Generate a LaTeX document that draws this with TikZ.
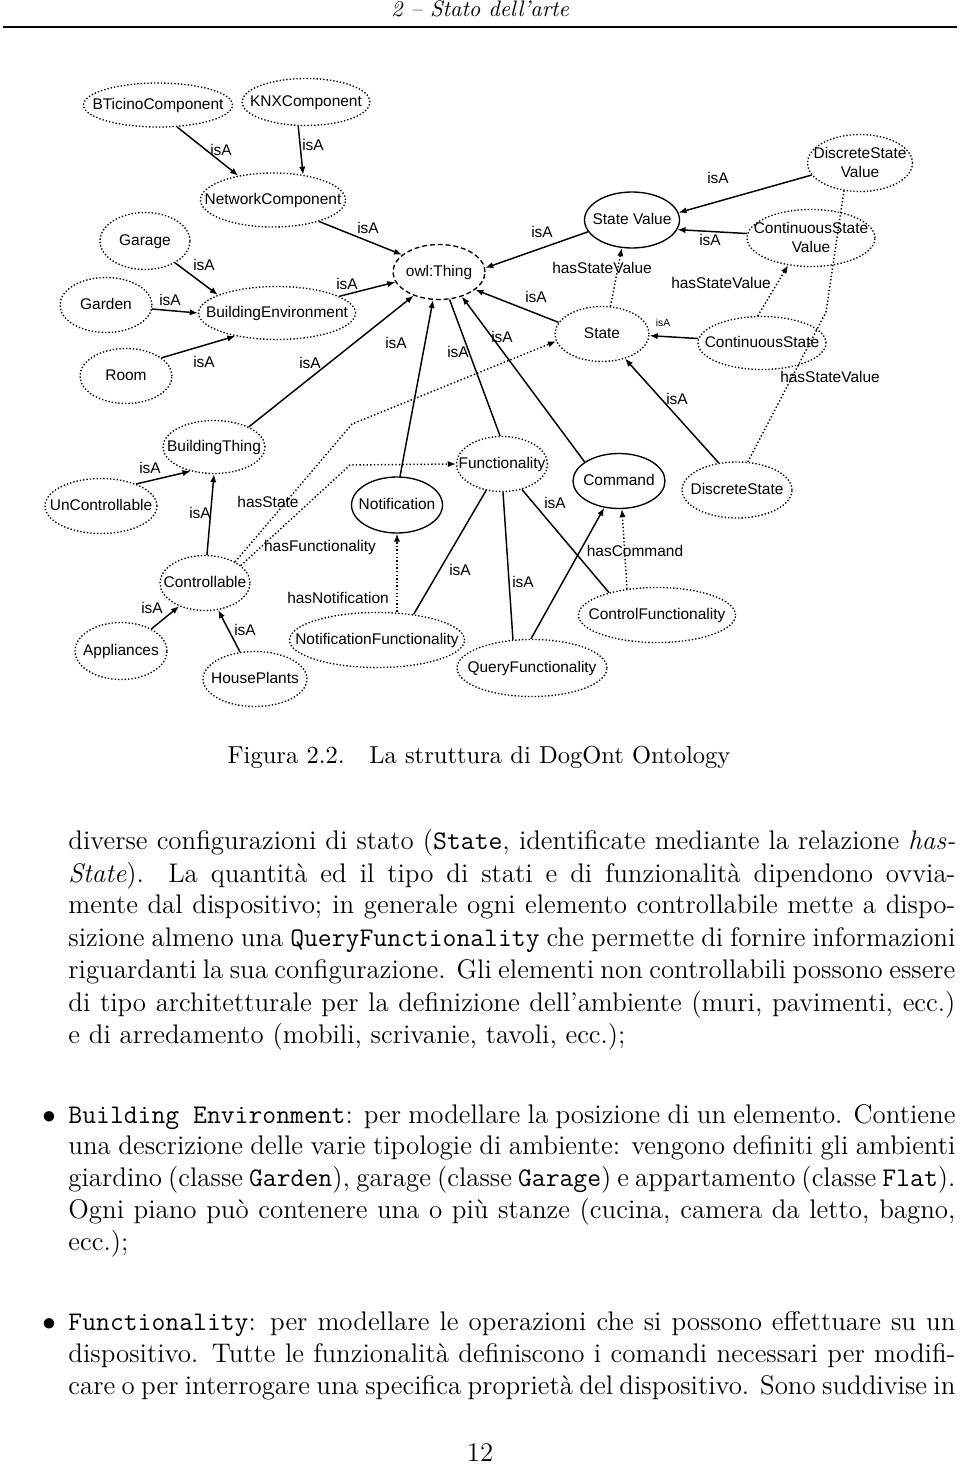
\documentclass[tikz,border=0pt]{standalone}
\usepackage{fontspec}
\newfontfamily\dgfont{Liberation Sans}
\usetikzlibrary{positioning}
\usetikzlibrary{calc}
\usetikzlibrary{arrows.meta}
\usetikzlibrary{shapes.geometric}
\newlength{\tw}
\setlength{\tw}{395.6pt}
\newcommand{\jline}[1]{\makebox[\tw][s]{#1}}
\newcommand{\cname}[1]{\makebox[0pt]{\begin{tabular}{@{}c@{}}#1\end{tabular}}}

\begin{document}
\begin{tikzpicture}[x=0.446pt, y=-0.446pt,
        cls/.style={draw, ellipse, inner sep=0pt, text height=4.4pt, text depth=0pt, line width=0.6pt, dash pattern=on 0.6pt off 0.9pt, font=\dgfont\fontsize{6.9}{8.4}\selectfont},
        key/.style={cls, solid},
        top/.style={cls, dash pattern=on 2.2pt off 1.3pt},
        sz/.style 2 args={minimum width=#1*0.446pt, minimum height=#2*0.446pt},
        plain/.style={line width=0.65pt},
        isa/.style={plain, -{Latex[length=3.6pt, width=2.8pt]}},
        rel/.style={isa, dash pattern=on 0.6pt off 1pt},
        dotline/.style={plain, dash pattern=on 0.6pt off 1pt},
        lbl/.style={inner sep=0pt, font=\dgfont\fontsize{6.9}{8.4}\selectfont},
        tinylbl/.style={inner sep=0pt, font=\dgfont\fontsize{4.6}{5}\selectfont},
        txt/.style={anchor=base west, inner sep=0pt, font=\fontsize{12}{14.5}\selectfont},
        mid/.style={anchor=base, inner sep=0pt, font=\fontsize{12}{14.5}\selectfont}]
        \useasboundingbox (0,0) rectangle (960,1464);

        % page header
        \node[mid, font=\fontsize{10}{12}\selectfont\itshape] (header) at (480,17) {2 -- Stato dell'arte};
        \draw[line width=0.6pt] (3,27) -- (957,27);

        % ontology classes
        \node[cls, sz={149}{44}] (bticino) at (158,105) {\cname{BTicinoComponent}};
        \node[cls, sz={128}{47}] (knx) at (306,102) {\cname{KNXComponent}};
        \node[cls, sz={145}{54}] (network) at (273,200) {\cname{NetworkComponent}};
        \node[cls, sz={90}{57}] (garage) at (145,241) {\cname{Garage}};
        \node[cls, sz={92}{55}] (garden) at (106,305) {\cname{Garden}};
        \node[cls, sz={157}{53}] (building_env) at (277,313) {\cname{BuildingEnvironment}};
        \node[cls, sz={92}{55}] (room) at (126,376) {\cname{Room}};
        \node[top, sz={92}{55}] (owl_thing) at (439,272) {\cname{owl:Thing}};
        \node[key, sz={95}{56}] (state_value) at (632,220) {\cname{State Value}};
        \node[cls, sz={105}{57}] (discrete_sv) at (860,163) {\cname{DiscreteState\\Value}};
        \node[cls, sz={128}{57}] (continuous_sv) at (811,238) {\cname{ContinuousState\\Value}};
        \node[cls, sz={94}{55}] (state) at (602,334) {\cname{State}};
        \node[cls, sz={128}{53}] (continuous_state) at (762,343) {\cname{ContinuousState}};
        \node[cls, sz={110}{56}] (discrete_state) at (737,490) {\cname{DiscreteState}};
        \node[cls, sz={102}{53}] (building_thing) at (214,447) {\cname{BuildingThing}};
        \node[cls, sz={112}{55}] (uncontrollable) at (101,506) {\cname{UnControllable}};
        \node[cls, sz={90}{55}] (controllable) at (205,583) {\cname{Controllable}};
        \node[cls, sz={92}{57}] (appliances) at (121,651) {\cname{Appliances}};
        \node[cls, sz={104}{55}] (houseplants) at (255,679) {\cname{HousePlants}};
        \node[key, sz={91}{56}] (notification) at (397,505) {\cname{Notification}};
        \node[cls, sz={175}{55}] (notif_func) at (377,640) {\cname{NotificationFunctionality}};
        \node[cls, sz={91}{55}] (functionality) at (502,464) {\cname{Functionality}};
        \node[key, sz={92}{55}] (command) at (619,481) {\cname{Command}};
        \node[cls, sz={157}{55}] (control_func) at (657,615) {\cname{ControlFunctionality}};
        \node[cls, sz={150}{57}] (query_func) at (532,668) {\cname{QueryFunctionality}};

        \coordinate (bend_dsv) at (826,312);
        \coordinate (bend_state) at (352,424);
        \coordinate (bend_func) at (350,465);

        % isA relations
        \draw[isa] (bticino.-49) -- (network.145);
        \draw[isa] (knx.-108) -- (network.40);
        \draw[isa] (network.-25) -- (owl_thing.155);
        \draw[isa] (garage.-36) -- (building_env.163);
        \draw[isa] (garden.-5) -- (building_env.180);
        \draw[isa] (room.27) -- (building_env.-151);
        \draw[isa] (building_env.15) -- (owl_thing.-167);
        \draw[isa] (building_thing.30) -- (owl_thing.-137);
        \draw[isa] (notification.84) -- (owl_thing.-102);
        \draw[plain] (functionality.94) -- (owl_thing.-69);
        \draw[isa] (command.151) -- (owl_thing.-47);
        \draw[isa] (state.165) -- (owl_thing.-26);
        \draw[isa] (state_value.-165) -- (owl_thing.5);
        \draw[isa] (discrete_sv.-166) -- (state_value.9);
        \draw[isa] (continuous_sv.176) -- (state_value.-12);
        \draw[isa] (continuous_state.176) -- (state.-2);
        \draw[isa] (discrete_state.124) -- (state.-47);
        \draw[isa] (uncontrollable.32) -- (building_thing.-134);
        \draw[isa] (controllable.86) -- (building_thing.-90);
        \draw[isa] (appliances.36) -- (controllable.-138);
        \draw[isa] (houseplants.119) -- (controllable.-64);
        \draw[plain] (notif_func.35) -- (functionality.-121);
        \draw[plain] (query_func.124) -- (functionality.-88);
        \draw[plain] (control_func.155) -- (functionality.-52);
        \draw[isa] (query_func.92) -- (command.-119);

        % object properties
        \draw[rel] (state.73) -- (state_value.-110);
        \draw[rel] (continuous_state.99) -- (continuous_sv.-130);
        \draw[dotline] (discrete_state.69) -- (bend_dsv) -- (discrete_sv.-120);
        \draw[rel] (controllable.35) -- (bend_state) -- (state.-171);
        \draw[rel] (controllable.26) -- (bend_func) -- (functionality.180);
        \draw[rel] (notif_func.north -| notification) -- (notification);
        \draw[rel] (control_func.139) -- (command.-84);

        % edge labels
        \node[lbl] (lbl_bticino) at (221,150) {isA};
        \node[lbl] (lbl_knx) at (313,145) {isA};
        \node[lbl] (lbl_network) at (368,228) {isA};
        \node[lbl] (lbl_garage) at (204,265) {isA};
        \node[lbl] (lbl_garden) at (170,300) {isA};
        \node[lbl] (lbl_room) at (204,362) {isA};
        \node[lbl] (lbl_building_env) at (347,284) {isA};
        \node[lbl] (lbl_building_thing) at (310,363) {isA};
        \node[lbl] (lbl_notification) at (396,343) {isA};
        \node[lbl] (lbl_functionality) at (458,352) {isA};
        \node[lbl] (lbl_command) at (502,337) {isA};
        \node[lbl] (lbl_state) at (536,297) {isA};
        \node[lbl] (lbl_state_value) at (542,232) {isA};
        \node[lbl] (lbl_discrete_sv) at (718,178) {isA};
        \node[lbl] (lbl_continuous_sv) at (710,240) {isA};
        \node[lbl] (lbl_has_sv_1) at (602,268) {hasStateValue};
        \node[lbl] (lbl_has_sv_2) at (721,283) {hasStateValue};
        \node[tinylbl] (lbl_continuous_state) at (663,323) {isA};
        \node[lbl] (lbl_discrete_state) at (677,399) {isA};
        \node[lbl] (lbl_has_sv_3) at (830,377) {hasStateValue};
        \node[lbl] (lbl_uncontrollable) at (150,468) {isA};
        \node[lbl] (lbl_controllable) at (200,513) {isA};
        \node[lbl] (lbl_has_state) at (268,502) {hasState};
        \node[lbl] (lbl_has_func) at (320,547) {hasFunctionality};
        \node[lbl] (lbl_has_notif) at (338,598) {hasNotification};
        \node[lbl] (lbl_notif_func) at (460,570) {isA};
        \node[lbl] (lbl_query_func) at (523,582) {isA};
        \node[lbl] (lbl_control_func) at (555,503) {isA};
        \node[lbl] (lbl_has_command) at (635,551) {hasCommand};
        \node[lbl] (lbl_appliances) at (152,608) {isA};
        \node[lbl] (lbl_houseplants) at (245,630) {isA};

        % caption and running text
        \node[mid, font=\fontsize{10.95}{13.6}\selectfont] (caption) at (479,763) {Figura 2.2.\quad La struttura di DogOnt Ontology};

        \node[txt] (body_1) at (68,849) {\jline{diverse configurazioni di stato (\texttt{State}, identificate mediante la relazione \textit{has-}}};
        \node[txt] (body_2) at (68,882) {\jline{\textit{State}). La quantità ed il tipo di stati e di funzionalità dipendono ovvia-}};
        \node[txt] (body_3) at (68,913) {\jline{mente dal dispositivo; in generale ogni elemento controllabile mette a dispo-}};
        \node[txt] (body_4) at (68,946) {\jline{sizione almeno una \texttt{QueryFunctionality} che permette di fornire informazioni}};
        \node[txt] (body_5) at (68,978) {\jline{riguardanti la sua configurazione. Gli elementi non controllabili possono essere}};
        \node[txt] (body_6) at (68,1011) {\jline{di tipo architetturale per la definizione dell'ambiente (muri, pavimenti, ecc.)}};
        \node[txt] (body_7) at (68,1043) {e di arredamento (mobili, scrivanie, tavoli, ecc.);};

        \node[mid] (bullet_1) at (49,1123) {$\bullet$};
        \node[txt] (item_11) at (68,1123) {\jline{\texttt{Building Environment}: per modellare la posizione di un elemento. Contiene}};
        \node[txt] (item_12) at (68,1154) {\jline{una descrizione delle varie tipologie di ambiente: vengono definiti gli ambienti}};
        \node[txt] (item_13) at (68,1186) {\jline{giardino (classe \texttt{Garden}), garage (classe \texttt{Garage}) e appartamento (classe \texttt{Flat}).}};
        \node[txt] (item_14) at (68,1218) {\jline{Ogni piano può contenere una o più stanze (cucina, camera da letto, bagno,}};
        \node[txt] (item_15) at (68,1250) {ecc.);};

        \node[mid] (bullet_2) at (49,1330) {$\bullet$};
        \node[txt] (item_21) at (68,1330) {\jline{\texttt{Functionality}: per modellare le operazioni che si possono effettuare su un}};
        \node[txt] (item_22) at (68,1362) {\jline{dispositivo. Tutte le funzionalità definiscono i comandi necessari per modifi-}};
        \node[txt] (item_23) at (68,1394) {\jline{care o per interrogare una specifica proprietà del dispositivo. Sono suddivise in}};

        \node[mid] (page_num) at (480,1461) {12};
    \end{tikzpicture}
\end{document}
